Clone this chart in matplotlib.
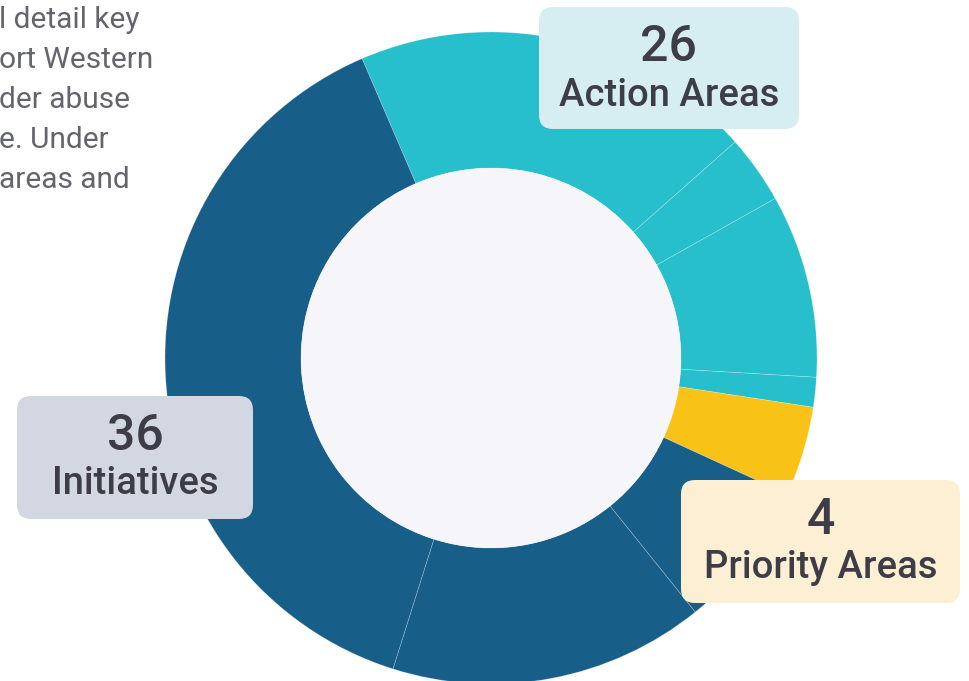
import matplotlib.pyplot as plt
from matplotlib.patches import FancyBboxPatch, Circle

plt.rcParams['font.family'] = ['Roboto', 'DejaVu Sans']

# segment sizes (degrees of the ring, read clockwise from the top teal block)
seg_values = [71.8, 12.2, 32.7, 5.3, 16.0, 26.5, 56.3, 139.2]
seg_groups = ['action', 'action', 'action', 'action', 'priority',
              'initiative', 'initiative', 'initiative']
group_colors = {'action': '#26BFCB', 'priority': '#F8C316', 'initiative': '#175E88'}

# callout boxes
box_numbers = ['26', '36', '4']
box_names = ['Action Areas', 'Initiatives', 'Priority Areas']
box_fills = ['#D6EEF1', '#D3D7E1', '#FDEFD3']

intro_lines = ['l detail key', 'ort Western', 'der abuse', 'e. Under', 'areas and']

W, H = 970, 681
fig = plt.figure(figsize=(W / 100, H / 100), dpi=100)
ax = fig.add_axes([0, 0, 1, 1])

cx, cy = 491, H - 358
r_out, r_in = 326, 190

ax.pie(seg_values, colors=[group_colors[g] for g in seg_groups],
       startangle=113.3, counterclock=False, radius=r_out, center=(cx, cy),
       wedgeprops=dict(width=r_out - r_in, linewidth=0.5, edgecolor=(1, 1, 1, 0.3)),
       frame=True)
ax.add_patch(Circle((cx, cy), r_in, facecolor='#F5F5FA', edgecolor='none', zorder=3))

ax.set_xlim(0, W)
ax.set_ylim(0, H)
ax.set_aspect('equal')
ax.axis('off')

# label boxes: x0, y0(top), x1, y1(bottom) in pixels
box_pos = [(539, 7, 799, 129), (17, 396, 253, 519), (681, 480, 960, 603)]
for (x0, y0, x1, y1), num, name, fc in zip(box_pos, box_numbers, box_names, box_fills):
    ax.add_patch(FancyBboxPatch((x0, H - y1), x1 - x0, y1 - y0,
                                boxstyle='round,pad=0,rounding_size=14',
                                facecolor=fc, edgecolor='none', zorder=5))
    xm = (x0 + x1) / 2
    ax.text(xm, H - (y0 + 40), num, ha='center', va='center', fontsize=36,
            fontweight='medium', color='#3E3D47', zorder=6)
    ax.text(xm, H - (y0 + 88), name, ha='center', va='center', fontsize=27.5,
            fontweight='medium', color='#3E3D47', zorder=6)

for i, line in enumerate(intro_lines):
    ax.text(-1, H - (20 + 40 * i), line, ha='left', va='center', fontsize=21.5,
            color='#64646C', zorder=6)

fig.savefig('out.png', dpi=100)
